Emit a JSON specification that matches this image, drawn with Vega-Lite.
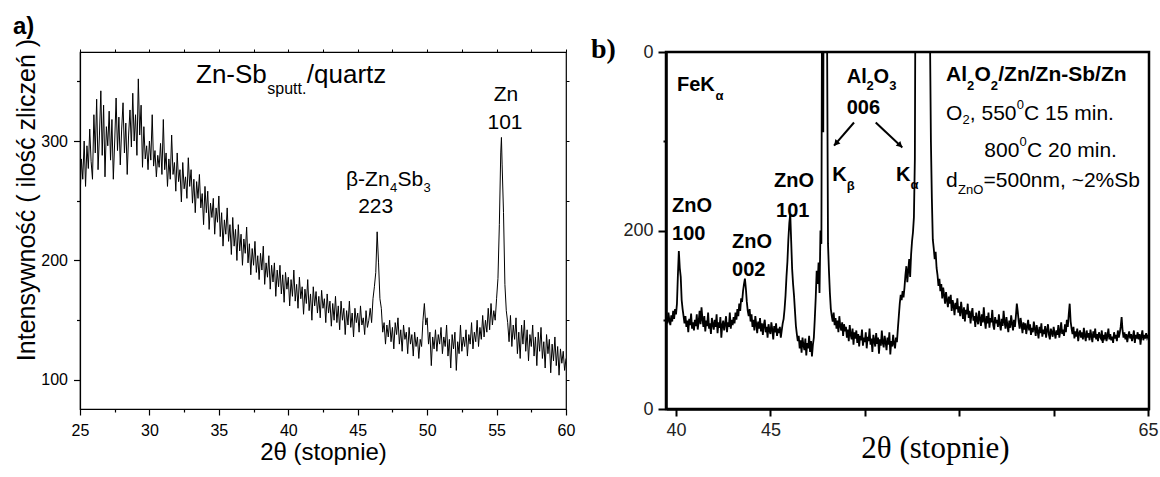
{
"$schema": "https://vega.github.io/schema/vega-lite/v6.json",
"autosize": {"type": "pad"},
"padding": {"left": 12, "top": 14, "right": 0, "bottom": 0},
"bounds": "flush",
"spacing": 100,
"background": "white",
"config": {
  "view": {"stroke": null},
  "font": "Liberation Sans",
  "axis": {"grid": false, "labelFlush": false, "labelOverlap": false, "domainColor": "black", "tickColor": "black", "labelColor": "black", "titleColor": "black", "titleFontWeight": "normal", "labelFont": "Liberation Sans", "titleFont": "Liberation Sans"}
},
"datasets": {
"a": [
{"t":25.0,"c":250},{"t":25.1,"c":285},{"t":25.2,"c":268},{"t":25.3,"c":300},{"t":25.4,"c":262},{"t":25.5,"c":296},{"t":25.6,"c":277},{"t":25.7,"c":310},{"t":25.8,"c":283},{"t":25.9,"c":268},
{"t":26.0,"c":322},{"t":26.1,"c":290},{"t":26.2,"c":335},{"t":26.3,"c":276},{"t":26.4,"c":305},{"t":26.5,"c":342},{"t":26.6,"c":288},{"t":26.7,"c":330},{"t":26.8,"c":270},{"t":26.9,"c":312},
{"t":27.0,"c":296},{"t":27.1,"c":325},{"t":27.2,"c":284},{"t":27.3,"c":318},{"t":27.4,"c":268},{"t":27.5,"c":300},{"t":27.6,"c":336},{"t":27.7,"c":292},{"t":27.8,"c":320},{"t":27.9,"c":280},
{"t":28.0,"c":310},{"t":28.1,"c":332},{"t":28.2,"c":290},{"t":28.3,"c":315},{"t":28.4,"c":272},{"t":28.5,"c":305},{"t":28.6,"c":326},{"t":28.7,"c":295},{"t":28.8,"c":340},{"t":28.9,"c":300},
{"t":29.0,"c":322},{"t":29.1,"c":288},{"t":29.2,"c":352},{"t":29.3,"c":305},{"t":29.4,"c":330},{"t":29.5,"c":278},{"t":29.6,"c":312},{"t":29.7,"c":285},{"t":29.8,"c":296},{"t":29.9,"c":276},
{"t":30.0,"c":300},{"t":30.1,"c":284},{"t":30.2,"c":322},{"t":30.3,"c":279},{"t":30.4,"c":292},{"t":30.5,"c":270},{"t":30.6,"c":288},{"t":30.7,"c":278},{"t":30.8,"c":298},{"t":30.9,"c":272},
{"t":31.0,"c":318},{"t":31.1,"c":276},{"t":31.2,"c":290},{"t":31.3,"c":262},{"t":31.4,"c":285},{"t":31.5,"c":268},{"t":31.6,"c":305},{"t":31.7,"c":272},{"t":31.8,"c":282},{"t":31.9,"c":258},
{"t":32.0,"c":290},{"t":32.1,"c":266},{"t":32.2,"c":276},{"t":32.3,"c":249},{"t":32.4,"c":282},{"t":32.5,"c":260},{"t":32.6,"c":270},{"t":32.7,"c":252},{"t":32.8,"c":286},{"t":32.9,"c":262},
{"t":33.0,"c":276},{"t":33.1,"c":248},{"t":33.2,"c":268},{"t":33.3,"c":240},{"t":33.4,"c":266},{"t":33.5,"c":252},{"t":33.6,"c":272},{"t":33.7,"c":244},{"t":33.8,"c":256},{"t":33.9,"c":230},
{"t":34.0,"c":262},{"t":34.1,"c":240},{"t":34.2,"c":258},{"t":34.3,"c":226},{"t":34.4,"c":248},{"t":34.5,"c":236},{"t":34.6,"c":252},{"t":34.7,"c":222},{"t":34.8,"c":244},{"t":34.9,"c":232},
{"t":35.0,"c":254},{"t":35.1,"c":220},{"t":35.2,"c":240},{"t":35.3,"c":212},{"t":35.4,"c":234},{"t":35.5,"c":222},{"t":35.6,"c":244},{"t":35.7,"c":216},{"t":35.8,"c":230},{"t":35.9,"c":205},
{"t":36.0,"c":236},{"t":36.1,"c":212},{"t":36.2,"c":226},{"t":36.3,"c":200},{"t":36.4,"c":230},{"t":36.5,"c":208},{"t":36.6,"c":222},{"t":36.7,"c":196},{"t":36.8,"c":218},{"t":36.9,"c":206},
{"t":37.0,"c":228},{"t":37.1,"c":198},{"t":37.2,"c":214},{"t":37.3,"c":188},{"t":37.4,"c":210},{"t":37.5,"c":196},{"t":37.6,"c":216},{"t":37.7,"c":190},{"t":37.8,"c":204},{"t":37.9,"c":184},
{"t":38.0,"c":206},{"t":38.1,"c":192},{"t":38.2,"c":212},{"t":38.3,"c":180},{"t":38.4,"c":198},{"t":38.5,"c":186},{"t":38.6,"c":204},{"t":38.7,"c":176},{"t":38.8,"c":196},{"t":38.9,"c":182},
{"t":39.0,"c":198},{"t":39.1,"c":170},{"t":39.2,"c":192},{"t":39.3,"c":178},{"t":39.4,"c":196},{"t":39.5,"c":172},{"t":39.6,"c":188},{"t":39.7,"c":165},{"t":39.8,"c":190},{"t":39.9,"c":176},
{"t":40.0,"c":186},{"t":40.1,"c":162},{"t":40.2,"c":184},{"t":40.3,"c":170},{"t":40.4,"c":192},{"t":40.5,"c":166},{"t":40.6,"c":180},{"t":40.7,"c":160},{"t":40.8,"c":186},{"t":40.9,"c":168},
{"t":41.0,"c":178},{"t":41.1,"c":155},{"t":41.2,"c":176},{"t":41.3,"c":164},{"t":41.4,"c":184},{"t":41.5,"c":158},{"t":41.6,"c":172},{"t":41.7,"c":150},{"t":41.8,"c":178},{"t":41.9,"c":162},
{"t":42.0,"c":174},{"t":42.1,"c":156},{"t":42.2,"c":170},{"t":42.3,"c":152},{"t":42.4,"c":175},{"t":42.5,"c":160},{"t":42.6,"c":168},{"t":42.7,"c":148},{"t":42.8,"c":172},{"t":42.9,"c":156},
{"t":43.0,"c":166},{"t":43.1,"c":145},{"t":43.2,"c":164},{"t":43.3,"c":150},{"t":43.4,"c":170},{"t":43.5,"c":148},{"t":43.6,"c":162},{"t":43.7,"c":142},{"t":43.8,"c":166},{"t":43.9,"c":150},
{"t":44.0,"c":160},{"t":44.1,"c":138},{"t":44.2,"c":158},{"t":44.3,"c":146},{"t":44.4,"c":166},{"t":44.5,"c":144},{"t":44.6,"c":156},{"t":44.7,"c":136},{"t":44.8,"c":160},{"t":44.9,"c":148},
{"t":45.0,"c":156},{"t":45.1,"c":140},{"t":45.2,"c":162},{"t":45.3,"c":146},{"t":45.4,"c":152},{"t":45.5,"c":138},{"t":45.6,"c":158},{"t":45.7,"c":144},{"t":45.8,"c":150},{"t":45.9,"c":160},
{"t":46.0,"c":148},{"t":46.1,"c":168},{"t":46.2,"c":178},{"t":46.3,"c":190},{"t":46.4,"c":224},{"t":46.5,"c":198},{"t":46.6,"c":168},{"t":46.7,"c":160},{"t":46.8,"c":140},{"t":46.9,"c":148},
{"t":47.0,"c":130},{"t":47.1,"c":146},{"t":47.2,"c":136},{"t":47.3,"c":150},{"t":47.4,"c":132},{"t":47.5,"c":144},{"t":47.6,"c":126},{"t":47.7,"c":148},{"t":47.8,"c":138},{"t":47.9,"c":152},
{"t":48.0,"c":130},{"t":48.1,"c":142},{"t":48.2,"c":124},{"t":48.3,"c":146},{"t":48.4,"c":134},{"t":48.5,"c":140},{"t":48.6,"c":122},{"t":48.7,"c":144},{"t":48.8,"c":130},{"t":48.9,"c":138},
{"t":49.0,"c":120},{"t":49.1,"c":140},{"t":49.2,"c":128},{"t":49.3,"c":136},{"t":49.4,"c":118},{"t":49.5,"c":134},{"t":49.6,"c":128},{"t":49.7,"c":150},{"t":49.8,"c":164},{"t":49.9,"c":146},
{"t":50.0,"c":152},{"t":50.1,"c":130},{"t":50.2,"c":140},{"t":50.3,"c":112},{"t":50.4,"c":136},{"t":50.5,"c":126},{"t":50.6,"c":142},{"t":50.7,"c":124},{"t":50.8,"c":138},{"t":50.9,"c":130},
{"t":51.0,"c":144},{"t":51.1,"c":122},{"t":51.2,"c":136},{"t":51.3,"c":128},{"t":51.4,"c":146},{"t":51.5,"c":120},{"t":51.6,"c":134},{"t":51.7,"c":110},{"t":51.8,"c":138},{"t":51.9,"c":126},
{"t":52.0,"c":140},{"t":52.1,"c":108},{"t":52.2,"c":132},{"t":52.3,"c":122},{"t":52.4,"c":146},{"t":52.5,"c":124},{"t":52.6,"c":136},{"t":52.7,"c":128},{"t":52.8,"c":142},{"t":52.9,"c":120},
{"t":53.0,"c":138},{"t":53.1,"c":130},{"t":53.2,"c":148},{"t":53.3,"c":126},{"t":53.4,"c":140},{"t":53.5,"c":132},{"t":53.6,"c":150},{"t":53.7,"c":128},{"t":53.8,"c":144},{"t":53.9,"c":134},
{"t":54.0,"c":154},{"t":54.1,"c":136},{"t":54.2,"c":150},{"t":54.3,"c":140},{"t":54.4,"c":160},{"t":54.5,"c":142},{"t":54.6,"c":164},{"t":54.7,"c":146},{"t":54.8,"c":158},{"t":54.9,"c":150},
{"t":55.0,"c":168},{"t":55.1,"c":185},{"t":55.2,"c":230},{"t":55.3,"c":290},{"t":55.35,"c":303},{"t":55.4,"c":280},{"t":55.5,"c":240},{"t":55.6,"c":180},{"t":55.7,"c":158},{"t":55.8,"c":148},{"t":55.9,"c":132},
{"t":56.0,"c":154},{"t":56.1,"c":128},{"t":56.2,"c":146},{"t":56.3,"c":134},{"t":56.4,"c":152},{"t":56.5,"c":122},{"t":56.6,"c":140},{"t":56.7,"c":118},{"t":56.8,"c":146},{"t":56.9,"c":130},
{"t":57.0,"c":150},{"t":57.1,"c":124},{"t":57.2,"c":142},{"t":57.3,"c":116},{"t":57.4,"c":138},{"t":57.5,"c":128},{"t":57.6,"c":146},{"t":57.7,"c":120},{"t":57.8,"c":136},{"t":57.9,"c":112},
{"t":58.0,"c":140},{"t":58.1,"c":124},{"t":58.2,"c":144},{"t":58.3,"c":118},{"t":58.4,"c":132},{"t":58.5,"c":110},{"t":58.6,"c":138},{"t":58.7,"c":122},{"t":58.8,"c":134},{"t":58.9,"c":106},
{"t":59.0,"c":130},{"t":59.1,"c":116},{"t":59.2,"c":136},{"t":59.3,"c":112},{"t":59.4,"c":128},{"t":59.5,"c":104},{"t":59.6,"c":126},{"t":59.7,"c":114},{"t":59.8,"c":124},{"t":59.9,"c":108},
{"t":60.0,"c":118}
],
"aMain": [{"t":33.354,"c":348.5,"s":"Zn-Sb"},{"t":41.333,"c":348.5,"s":"/quartz"}],
"aSub": [{"t":38.489,"c":339.3,"s":"sputt."}],
"aPeak": [{"t":55.678,"c":333.5,"s":"Zn"},{"t":55.606,"c":309.8,"s":"101"},{"t":46.295,"c":240,"s":"223"}],
"aBeta": [{"t":44.156,"c":262.3,"s":"β-Zn"},{"t":47.865,"c":262.3,"s":"Sb"}],
"aBetaSub": [{"t":47.325,"c":257.3,"s":"4"},{"t":49.737,"c":257.3,"s":"3"}],
"aPanel": [{"t":20.175,"c":389.5,"s":"a)"}],
"bPanel": [{"t":35.498,"c":393.3,"s":"b)"}],
"b": [
{"t":39.50,"c":103},{"t":39.55,"c":96},{"t":39.60,"c":108},{"t":39.65,"c":99},{"t":39.70,"c":94},{"t":39.75,"c":105},{"t":39.80,"c":98},{"t":39.85,"c":110},{"t":39.90,"c":101},{"t":39.95,"c":112},
{"t":40.00,"c":106},{"t":40.05,"c":118},{"t":40.10,"c":150},{"t":40.15,"c":177},{"t":40.20,"c":158},{"t":40.25,"c":148},{"t":40.30,"c":122},{"t":40.35,"c":112},{"t":40.40,"c":104},{"t":40.45,"c":96},
{"t":40.50,"c":104},{"t":40.55,"c":92},{"t":40.60,"c":99},{"t":40.65,"c":86},{"t":40.70,"c":101},{"t":40.75,"c":94},{"t":40.80,"c":107},{"t":40.85,"c":90},{"t":40.90,"c":97},{"t":40.95,"c":88},
{"t":41.00,"c":100},{"t":41.05,"c":93},{"t":41.10,"c":106},{"t":41.15,"c":89},{"t":41.20,"c":98},{"t":41.25,"c":110},{"t":41.30,"c":95},{"t":41.35,"c":114},{"t":41.40,"c":101},{"t":41.45,"c":92},
{"t":41.50,"c":104},{"t":41.55,"c":87},{"t":41.60,"c":99},{"t":41.65,"c":93},{"t":41.70,"c":108},{"t":41.75,"c":90},{"t":41.80,"c":96},{"t":41.85,"c":84},{"t":41.90,"c":102},{"t":41.95,"c":95},
{"t":42.00,"c":89},{"t":42.05,"c":100},{"t":42.10,"c":92},{"t":42.15,"c":106},{"t":42.20,"c":85},{"t":42.25,"c":97},{"t":42.30,"c":91},{"t":42.35,"c":103},{"t":42.40,"c":80},{"t":42.45,"c":94},
{"t":42.50,"c":99},{"t":42.55,"c":88},{"t":42.60,"c":95},{"t":42.65,"c":104},{"t":42.70,"c":86},{"t":42.75,"c":97},{"t":42.80,"c":92},{"t":42.85,"c":108},{"t":42.90,"c":90},{"t":42.95,"c":100},
{"t":43.00,"c":94},{"t":43.05,"c":103},{"t":43.10,"c":96},{"t":43.15,"c":108},{"t":43.20,"c":100},{"t":43.25,"c":112},{"t":43.30,"c":104},{"t":43.35,"c":118},{"t":43.40,"c":110},{"t":43.45,"c":124},
{"t":43.50,"c":120},{"t":43.55,"c":132},{"t":43.60,"c":140},{"t":43.65,"c":146},{"t":43.70,"c":135},{"t":43.75,"c":120},{"t":43.80,"c":110},{"t":43.85,"c":104},{"t":43.90,"c":112},{"t":43.95,"c":98},
{"t":44.00,"c":106},{"t":44.05,"c":92},{"t":44.10,"c":100},{"t":44.15,"c":88},{"t":44.20,"c":104},{"t":44.25,"c":95},{"t":44.30,"c":85},{"t":44.35,"c":98},{"t":44.40,"c":90},{"t":44.45,"c":102},
{"t":44.50,"c":87},{"t":44.55,"c":96},{"t":44.60,"c":83},{"t":44.65,"c":94},{"t":44.70,"c":100},{"t":44.75,"c":86},{"t":44.80,"c":92},{"t":44.85,"c":80},{"t":44.90,"c":95},{"t":44.95,"c":88},
{"t":45.00,"c":84},{"t":45.05,"c":97},{"t":45.10,"c":89},{"t":45.15,"c":78},{"t":45.20,"c":93},{"t":45.25,"c":86},{"t":45.30,"c":96},{"t":45.35,"c":82},{"t":45.40,"c":90},{"t":45.45,"c":85},
{"t":45.50,"c":92},{"t":45.55,"c":80},{"t":45.60,"c":88},{"t":45.65,"c":96},{"t":45.70,"c":101},{"t":45.75,"c":112},{"t":45.80,"c":127},{"t":45.85,"c":148},{"t":45.90,"c":165},{"t":45.95,"c":190},
{"t":46.00,"c":208},{"t":46.05,"c":219},{"t":46.10,"c":188},{"t":46.15,"c":157},{"t":46.20,"c":140},{"t":46.25,"c":127},{"t":46.30,"c":110},{"t":46.35,"c":93},{"t":46.40,"c":84},{"t":46.45,"c":76},
{"t":46.50,"c":82},{"t":46.55,"c":68},{"t":46.60,"c":77},{"t":46.65,"c":63},{"t":46.70,"c":80},{"t":46.75,"c":71},{"t":46.80,"c":66},{"t":46.85,"c":79},{"t":46.90,"c":60},{"t":46.95,"c":74},
{"t":47.00,"c":68},{"t":47.05,"c":82},{"t":47.10,"c":64},{"t":47.15,"c":76},{"t":47.20,"c":59},{"t":47.25,"c":72},{"t":47.30,"c":80},{"t":47.35,"c":101},{"t":47.40,"c":125},{"t":47.45,"c":155},
{"t":47.50,"c":140},{"t":47.55,"c":164},{"t":47.60,"c":130},{"t":47.65,"c":200},{"t":47.70,"c":185},{"t":47.75,"c":600},{"t":47.80,"c":310},{"t":47.85,"c":900},{"t":47.90,"c":1000},{"t":47.95,"c":800},
{"t":48.00,"c":420},{"t":48.05,"c":185},{"t":48.10,"c":155},{"t":48.15,"c":130},{"t":48.20,"c":112},{"t":48.25,"c":104},{"t":48.30,"c":98},{"t":48.35,"c":108},{"t":48.40,"c":94},{"t":48.45,"c":102},
{"t":48.50,"c":90},{"t":48.55,"c":99},{"t":48.60,"c":86},{"t":48.65,"c":104},{"t":48.70,"c":93},{"t":48.75,"c":88},{"t":48.80,"c":97},{"t":48.85,"c":82},{"t":48.90,"c":95},{"t":48.95,"c":87},
{"t":49.00,"c":92},{"t":49.05,"c":80},{"t":49.10,"c":89},{"t":49.15,"c":76},{"t":49.20,"c":94},{"t":49.25,"c":83},{"t":49.30,"c":78},{"t":49.35,"c":90},{"t":49.40,"c":72},{"t":49.45,"c":86},
{"t":49.50,"c":79},{"t":49.55,"c":88},{"t":49.60,"c":74},{"t":49.65,"c":84},{"t":49.70,"c":70},{"t":49.75,"c":82},{"t":49.80,"c":77},{"t":49.85,"c":89},{"t":49.90,"c":71},{"t":49.95,"c":80},
{"t":50.00,"c":75},{"t":50.05,"c":86},{"t":50.10,"c":68},{"t":50.15,"c":81},{"t":50.20,"c":76},{"t":50.25,"c":90},{"t":50.30,"c":72},{"t":50.35,"c":79},{"t":50.40,"c":64},{"t":50.45,"c":83},
{"t":50.50,"c":77},{"t":50.55,"c":70},{"t":50.60,"c":85},{"t":50.65,"c":73},{"t":50.70,"c":80},{"t":50.75,"c":62},{"t":50.80,"c":78},{"t":50.85,"c":71},{"t":50.90,"c":88},{"t":50.95,"c":74},
{"t":51.00,"c":69},{"t":51.05,"c":82},{"t":51.10,"c":75},{"t":51.15,"c":66},{"t":51.20,"c":80},{"t":51.25,"c":72},{"t":51.30,"c":86},{"t":51.35,"c":61},{"t":51.40,"c":76},{"t":51.45,"c":70},
{"t":51.50,"c":83},{"t":51.55,"c":73},{"t":51.60,"c":68},{"t":51.65,"c":80},{"t":51.70,"c":75},{"t":51.75,"c":90},{"t":51.80,"c":104},{"t":51.85,"c":118},{"t":51.90,"c":128},{"t":51.95,"c":122},
{"t":52.00,"c":132},{"t":52.05,"c":125},{"t":52.10,"c":136},{"t":52.15,"c":150},{"t":52.20,"c":160},{"t":52.25,"c":142},{"t":52.30,"c":155},{"t":52.35,"c":168},{"t":52.40,"c":148},{"t":52.45,"c":173},
{"t":52.50,"c":188},{"t":52.55,"c":198},{"t":52.60,"c":215},{"t":52.65,"c":280},{"t":52.70,"c":600},{"t":52.75,"c":1200},{"t":52.80,"c":1800},{"t":52.85,"c":2400},{"t":52.90,"c":3000},{"t":52.95,"c":3400},
{"t":53.00,"c":3500},{"t":53.05,"c":3300},{"t":53.10,"c":2900},{"t":53.15,"c":2300},{"t":53.20,"c":1700},{"t":53.25,"c":1200},{"t":53.30,"c":800},{"t":53.35,"c":550},{"t":53.40,"c":450},{"t":53.45,"c":420},
{"t":53.50,"c":300},{"t":53.55,"c":236},{"t":53.60,"c":190},{"t":53.65,"c":180},{"t":53.70,"c":168},{"t":53.75,"c":176},{"t":53.80,"c":158},{"t":53.85,"c":150},{"t":53.90,"c":138},{"t":53.95,"c":146},
{"t":54.00,"c":132},{"t":54.05,"c":140},{"t":54.10,"c":124},{"t":54.15,"c":136},{"t":54.20,"c":128},{"t":54.25,"c":118},{"t":54.30,"c":131},{"t":54.35,"c":122},{"t":54.40,"c":114},{"t":54.45,"c":126},
{"t":54.50,"c":118},{"t":54.55,"c":128},{"t":54.60,"c":110},{"t":54.65,"c":122},{"t":54.70,"c":116},{"t":54.75,"c":105},{"t":54.80,"c":119},{"t":54.85,"c":112},{"t":54.90,"c":124},{"t":54.95,"c":108},
{"t":55.00,"c":115},{"t":55.05,"c":104},{"t":55.10,"c":120},{"t":55.15,"c":110},{"t":55.20,"c":101},{"t":55.25,"c":114},{"t":55.30,"c":98},{"t":55.35,"c":111},{"t":55.40,"c":106},{"t":55.45,"c":118},
{"t":55.50,"c":102},{"t":55.55,"c":110},{"t":55.60,"c":96},{"t":55.65,"c":107},{"t":55.70,"c":113},{"t":55.75,"c":99},{"t":55.80,"c":104},{"t":55.85,"c":92},{"t":55.90,"c":108},{"t":55.95,"c":100},
{"t":56.00,"c":95},{"t":56.05,"c":110},{"t":56.10,"c":101},{"t":56.15,"c":93},{"t":56.20,"c":106},{"t":56.25,"c":97},{"t":56.30,"c":114},{"t":56.35,"c":99},{"t":56.40,"c":90},{"t":56.45,"c":104},
{"t":56.50,"c":96},{"t":56.55,"c":108},{"t":56.60,"c":91},{"t":56.65,"c":102},{"t":56.70,"c":97},{"t":56.75,"c":111},{"t":56.80,"c":94},{"t":56.85,"c":89},{"t":56.90,"c":103},{"t":56.95,"c":96},
{"t":57.00,"c":100},{"t":57.05,"c":92},{"t":57.10,"c":106},{"t":57.15,"c":95},{"t":57.20,"c":88},{"t":57.25,"c":101},{"t":57.30,"c":93},{"t":57.35,"c":110},{"t":57.40,"c":98},{"t":57.45,"c":90},
{"t":57.50,"c":103},{"t":57.55,"c":94},{"t":57.60,"c":86},{"t":57.65,"c":99},{"t":57.70,"c":91},{"t":57.75,"c":105},{"t":57.80,"c":96},{"t":57.85,"c":88},{"t":57.90,"c":100},{"t":57.95,"c":92},
{"t":58.00,"c":104},{"t":58.05,"c":118},{"t":58.10,"c":109},{"t":58.15,"c":98},{"t":58.20,"c":90},{"t":58.25,"c":102},{"t":58.30,"c":94},{"t":58.35,"c":85},{"t":58.40,"c":97},{"t":58.45,"c":89},
{"t":58.50,"c":96},{"t":58.55,"c":84},{"t":58.60,"c":92},{"t":58.65,"c":100},{"t":58.70,"c":88},{"t":58.75,"c":95},{"t":58.80,"c":83},{"t":58.85,"c":91},{"t":58.90,"c":86},{"t":58.95,"c":98},
{"t":59.00,"c":90},{"t":59.05,"c":82},{"t":59.10,"c":94},{"t":59.15,"c":87},{"t":59.20,"c":79},{"t":59.25,"c":92},{"t":59.30,"c":85},{"t":59.35,"c":96},{"t":59.40,"c":81},{"t":59.45,"c":89},
{"t":59.50,"c":84},{"t":59.55,"c":93},{"t":59.60,"c":80},{"t":59.65,"c":88},{"t":59.70,"c":95},{"t":59.75,"c":83},{"t":59.80,"c":78},{"t":59.85,"c":90},{"t":59.90,"c":86},{"t":59.95,"c":81},
{"t":60.00,"c":92},{"t":60.05,"c":85},{"t":60.10,"c":79},{"t":60.15,"c":88},{"t":60.20,"c":83},{"t":60.25,"c":94},{"t":60.30,"c":80},{"t":60.35,"c":87},{"t":60.40,"c":97},{"t":60.45,"c":84},
{"t":60.50,"c":89},{"t":60.55,"c":82},{"t":60.60,"c":95},{"t":60.65,"c":86},{"t":60.70,"c":100},{"t":60.75,"c":92},{"t":60.80,"c":106},{"t":60.85,"c":118},{"t":60.90,"c":98},{"t":60.95,"c":90},
{"t":61.00,"c":84},{"t":61.05,"c":92},{"t":61.10,"c":79},{"t":61.15,"c":87},{"t":61.20,"c":81},{"t":61.25,"c":90},{"t":61.30,"c":76},{"t":61.35,"c":85},{"t":61.40,"c":88},{"t":61.45,"c":80},
{"t":61.50,"c":86},{"t":61.55,"c":78},{"t":61.60,"c":91},{"t":61.65,"c":82},{"t":61.70,"c":76},{"t":61.75,"c":88},{"t":61.80,"c":80},{"t":61.85,"c":85},{"t":61.90,"c":77},{"t":61.95,"c":89},
{"t":62.00,"c":82},{"t":62.05,"c":75},{"t":62.10,"c":87},{"t":62.15,"c":80},{"t":62.20,"c":90},{"t":62.25,"c":78},{"t":62.30,"c":84},{"t":62.35,"c":76},{"t":62.40,"c":86},{"t":62.45,"c":81},
{"t":62.50,"c":79},{"t":62.55,"c":88},{"t":62.60,"c":74},{"t":62.65,"c":83},{"t":62.70,"c":80},{"t":62.75,"c":86},{"t":62.80,"c":76},{"t":62.85,"c":82},{"t":62.90,"c":90},{"t":62.95,"c":78},
{"t":63.00,"c":84},{"t":63.05,"c":77},{"t":63.10,"c":81},{"t":63.15,"c":74},{"t":63.20,"c":86},{"t":63.25,"c":79},{"t":63.30,"c":83},{"t":63.35,"c":76},{"t":63.40,"c":88},{"t":63.45,"c":80},
{"t":63.50,"c":85},{"t":63.55,"c":92},{"t":63.60,"c":103},{"t":63.65,"c":88},{"t":63.70,"c":80},{"t":63.75,"c":86},{"t":63.80,"c":78},{"t":63.85,"c":84},{"t":63.90,"c":75},{"t":63.95,"c":82},
{"t":64.00,"c":87},{"t":64.05,"c":79},{"t":64.10,"c":84},{"t":64.15,"c":76},{"t":64.20,"c":81},{"t":64.25,"c":88},{"t":64.30,"c":74},{"t":64.35,"c":83},{"t":64.40,"c":79},{"t":64.45,"c":86},
{"t":64.50,"c":78},{"t":64.55,"c":84},{"t":64.60,"c":72},{"t":64.65,"c":82},{"t":64.70,"c":88},{"t":64.75,"c":77},{"t":64.80,"c":83},{"t":64.85,"c":79},{"t":64.90,"c":85},{"t":64.95,"c":80},
{"t":65.00,"c":83}
],
"bBold20": [
{"t":40.053,"c":356.4,"s":"FeK"},{"t":49.041,"c":364.8,"s":"Al"},{"t":50.461,"c":364.8,"s":"O"},{"t":49.041,"c":330.7,"s":"006"},
{"t":48.279,"c":255.3,"s":"K"},{"t":51.653,"c":255.3,"s":"K"},
{"t":39.788,"c":220.4,"s":"ZnO"},{"t":39.788,"c":188.8,"s":"100"},
{"t":42.966,"c":179.9,"s":"ZnO"},{"t":42.966,"c":148.6,"s":"002"},
{"t":45.191,"c":248.4,"s":"ZnO"},{"t":45.297,"c":215.6,"s":"101"}
],
"bSubBold": [
{"t":42.092,"c":346.4,"s":"α"},{"t":50.090,"c":357.0,"s":"2"},{"t":51.298,"c":357.0,"s":"3"},
{"t":49.041,"c":245.8,"s":"β"},{"t":52.415,"c":246.9,"s":"α"},
{"t":55.413,"c":357.5,"s":"2"},{"t":56.674,"c":357.5,"s":"2"}
],
"bBold21": [{"t":54.301,"c":367.6,"s":"Al"},{"t":55.805,"c":367.6,"s":"O"},{"t":57.066,"c":367.6,"s":"/Zn/Zn-Sb/Zn"}],
"bNorm21": [
{"t":54.301,"c":324.0,"s":"O"},{"t":55.561,"c":324.0,"s":", 550"},{"t":58.432,"c":324.0,"s":"C 15 min."},
{"t":56.329,"c":282.7,"s":"800"},{"t":58.591,"c":282.7,"s":"C 20 min."},
{"t":54.301,"c":249.2,"s":"d"},{"t":56.287,"c":249.2,"s":"=500nm, ~2%Sb"}
],
"bSubNorm": [{"t":55.175,"c":319.6,"s":"2"},{"t":58.040,"c":336.3,"s":"0"},{"t":58.194,"c":295.0,"s":"0"},{"t":54.936,"c":241.3,"s":"ZnO"}],
"bArrows": [{"id":1,"t":49.428,"c":321.0,"t2":48.369,"c2":295.0},{"id":2,"t":50.577,"c":321.0,"t2":51.986,"c2":293.1}],
"bHeads": [{"id":1,"t":48.475,"c":297.5},{"id":2,"t":51.870,"c":295.4}]
},
"hconcat": [
{
  "width": 486, "height": 357,
  "view": {"stroke": "black", "strokeWidth": 1.2},
  "layer": [
    {"data": {"name": "a"}, "mark": {"type": "line", "color": "black", "strokeWidth": 1, "clip": true},
     "encoding": {
       "x": {"field": "t", "type": "quantitative", "scale": {"domain": [25, 60], "nice": false, "zero": false},
         "axis": {"orient": "bottom", "values": [25,27.5,30,32.5,35,37.5,40,42.5,45,47.5,50,52.5,55,57.5,60], "labelExpr": "datum.value % 5 === 0 ? datum.label : ''", "format": "d", "tickSize": {"condition": {"test": "datum.value % 5 !== 0", "value": 3}, "value": 6}, "labelFontSize": 16, "labelPadding": 7, "domainWidth": 1.2, "tickWidth": 1.2, "title": "2θ (stopnie)", "titleFontSize": 24, "titleY": 50, "titleBaseline": "alphabetic"}},
       "y": {"field": "c", "type": "quantitative", "scale": {"domain": [75.7, 374.5], "nice": false, "zero": false},
         "axis": {"orient": "left", "values": [100,150,200,250,300,350], "labelExpr": "datum.value % 100 === 0 ? datum.label : ''", "format": "d", "tickSize": {"condition": {"test": "datum.value % 100 !== 0", "value": 3.5}, "value": 6.5}, "labelFontSize": 16, "labelPadding": 6, "domainWidth": 1.2, "tickWidth": 1.2, "title": "Intensywność  ( ilość zliczeń )", "titleFontSize": 25, "titleX": -46, "titleY": 147.5, "titleBaseline": "alphabetic", "titleAngle": 270}}
     }},
    {"data": {"name": "aMain"}, "mark": {"type": "text", "fontSize": 26, "align": "left", "baseline": "alphabetic", "color": "black"},
     "encoding": {
       "x": {"field": "t", "type": "quantitative", "scale": {"domain": [25, 60], "nice": false, "zero": false},
         "axis": {"orient": "top", "values": [25,27.5,30,32.5,35,37.5,40,42.5,45,47.5,50,52.5,55,57.5,60], "labels": false, "tickSize": 3, "domain": false, "title": null}},
       "y": {"field": "c", "type": "quantitative", "scale": {"domain": [75.7, 374.5], "nice": false, "zero": false},
         "axis": {"orient": "right", "values": [100,150,200,250,300,350], "labels": false, "tickSize": 3, "domain": false, "title": null}},
       "text": {"field": "s"}}},
    {"data": {"name": "aSub"}, "mark": {"type": "text", "fontSize": 16, "align": "left", "baseline": "alphabetic", "color": "black"},
     "encoding": {"x": {"field": "t", "type": "quantitative", "axis": null}, "y": {"field": "c", "type": "quantitative", "axis": null}, "text": {"field": "s"}}},
    {"data": {"name": "aPeak"}, "mark": {"type": "text", "fontSize": 21, "align": "center", "baseline": "alphabetic", "color": "black"},
     "encoding": {"x": {"field": "t", "type": "quantitative", "axis": null}, "y": {"field": "c", "type": "quantitative", "axis": null}, "text": {"field": "s"}}},
    {"data": {"name": "aBeta"}, "mark": {"type": "text", "fontSize": 21, "align": "left", "baseline": "alphabetic", "color": "black"},
     "encoding": {"x": {"field": "t", "type": "quantitative", "axis": null}, "y": {"field": "c", "type": "quantitative", "axis": null}, "text": {"field": "s"}}},
    {"data": {"name": "aBetaSub"}, "mark": {"type": "text", "fontSize": 13, "align": "left", "baseline": "alphabetic", "color": "black"},
     "encoding": {"x": {"field": "t", "type": "quantitative", "axis": null}, "y": {"field": "c", "type": "quantitative", "axis": null}, "text": {"field": "s"}}},
    {"data": {"name": "aPanel"}, "mark": {"type": "text", "fontSize": 24, "fontWeight": "bold", "align": "left", "baseline": "alphabetic", "color": "black"},
     "encoding": {"x": {"field": "t", "type": "quantitative", "axis": null}, "y": {"field": "c", "type": "quantitative", "axis": null}, "text": {"field": "s"}}}
  ],
  "resolve": {"axis": {"x": "independent", "y": "independent"}}
},
{
  "width": 483, "height": 357,
  "view": {"stroke": "black", "strokeWidth": 2.5},
  "layer": [
    {"data": {"name": "b"}, "mark": {"type": "line", "color": "black", "strokeWidth": 1.8, "clip": true},
     "encoding": {
       "x": {"field": "t", "type": "quantitative", "scale": {"domain": [39.47, 65.05], "nice": false, "zero": false},
         "axis": {"orient": "bottom", "values": [40,45,50,55,60,65], "labelExpr": "datum.value < 50 || datum.value > 60 ? datum.label : ''", "format": "d", "tickSize": 7, "tickWidth": 2, "domainWidth": 2.5, "labelFontSize": 18, "labelPadding": 5, "labelColor": "#222", "title": "2θ (stopnie)", "titleFont": "Liberation Serif", "titleFontSize": 31, "titleX": 269, "titleY": 48, "titleBaseline": "alphabetic"}},
       "y": {"field": "c", "type": "quantitative", "scale": {"domain": [0, 400], "nice": false, "zero": false},
         "axis": {"orient": "left", "values": [0,100,200,300,400], "labelExpr": "datum.value == 400 ? '0' : (datum.value % 200 == 0 ? datum.label : '')", "format": "d", "tickSize": {"condition": {"test": "datum.value % 200 != 0", "value": 3}, "value": 8}, "tickWidth": 2, "domainWidth": 2.5, "labelFontSize": 18, "labelPadding": 5, "labelColor": "#222", "title": null}}
     }},
    {"data": {"name": "bBold20"}, "mark": {"type": "text", "fontSize": 20, "fontWeight": "bold", "align": "left", "baseline": "alphabetic", "color": "black"},
     "encoding": {"x": {"field": "t", "type": "quantitative"}, "y": {"field": "c", "type": "quantitative"}, "text": {"field": "s"}}},
    {"data": {"name": "bSubBold"}, "mark": {"type": "text", "fontSize": 13, "fontWeight": "bold", "align": "left", "baseline": "alphabetic", "color": "black"},
     "encoding": {"x": {"field": "t", "type": "quantitative"}, "y": {"field": "c", "type": "quantitative"}, "text": {"field": "s"}}},
    {"data": {"name": "bBold21"}, "mark": {"type": "text", "fontSize": 21, "fontWeight": "bold", "align": "left", "baseline": "alphabetic", "color": "black"},
     "encoding": {"x": {"field": "t", "type": "quantitative"}, "y": {"field": "c", "type": "quantitative"}, "text": {"field": "s"}}},
    {"data": {"name": "bNorm21"}, "mark": {"type": "text", "fontSize": 21, "align": "left", "baseline": "alphabetic", "color": "black"},
     "encoding": {"x": {"field": "t", "type": "quantitative"}, "y": {"field": "c", "type": "quantitative"}, "text": {"field": "s"}}},
    {"data": {"name": "bSubNorm"}, "mark": {"type": "text", "fontSize": 13, "align": "left", "baseline": "alphabetic", "color": "black"},
     "encoding": {"x": {"field": "t", "type": "quantitative"}, "y": {"field": "c", "type": "quantitative"}, "text": {"field": "s"}}},
    {"data": {"name": "bPanel"}, "mark": {"type": "text", "fontSize": 28, "fontWeight": "bold", "font": "Liberation Serif", "align": "left", "baseline": "alphabetic", "color": "black"},
     "encoding": {"x": {"field": "t", "type": "quantitative"}, "y": {"field": "c", "type": "quantitative"}, "text": {"field": "s"}}},
    {"data": {"name": "bArrows"}, "mark": {"type": "rule", "color": "black", "strokeWidth": 2},
     "encoding": {"x": {"field": "t", "type": "quantitative"}, "y": {"field": "c", "type": "quantitative"}, "x2": {"field": "t2"}, "y2": {"field": "c2"}}},
    {"data": {"name": "bHeads"}, "transform": [{"filter": "datum.id == 1"}], "mark": {"type": "point", "shape": "triangle-up", "filled": true, "color": "black", "size": 45, "angle": 220.6, "opacity": 1},
     "encoding": {"x": {"field": "t", "type": "quantitative"}, "y": {"field": "c", "type": "quantitative"}}},
    {"data": {"name": "bHeads"}, "transform": [{"filter": "datum.id == 2"}], "mark": {"type": "point", "shape": "triangle-up", "filled": true, "color": "black", "size": 45, "angle": 133.2, "opacity": 1},
     "encoding": {"x": {"field": "t", "type": "quantitative"}, "y": {"field": "c", "type": "quantitative"}}}
  ]
}
]
}
